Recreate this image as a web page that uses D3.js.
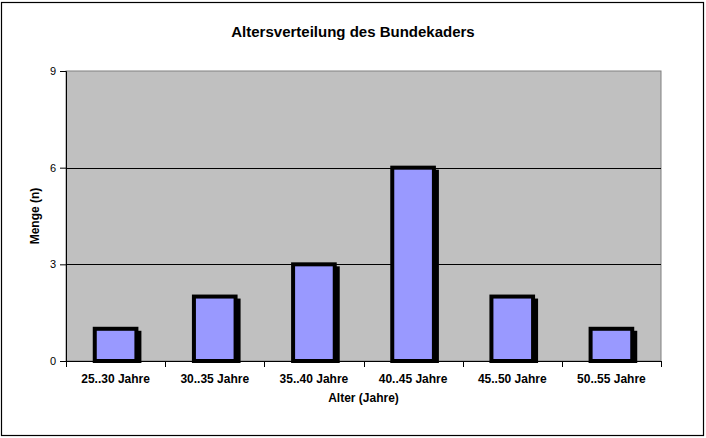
<!DOCTYPE html>
<html>
<head>
<meta charset="utf-8">
<script src="https://cdn.jsdelivr.net/npm/d3@7"></script>
<style>
  body { margin: 0; background: #fff; }
  svg { display: block; font-family: "Liberation Sans", Arial, sans-serif; }
</style>
</head>
<body>
<svg id="chart"></svg>
<script>
// data
const categories = ["25..30 Jahre", "30..35 Jahre", "35..40 Jahre", "40..45 Jahre", "45..50 Jahre", "50..55 Jahre"];
const counts = [1, 2, 3, 6, 2, 1];
const yTicks = [0, 3, 6, 9];

const width = 706, height = 438;
const margin = { top: 71, right: 45, bottom: 77, left: 66 };
const innerW = width - margin.left - margin.right;
const innerH = height - margin.top - margin.bottom;

const svg = d3.select("#chart").attr("width", width).attr("height", height);

// outer chart border
svg.append("rect")
    .attr("x", 1.5).attr("y", 2.5)
    .attr("width", 702).attr("height", 433)
    .attr("fill", "#fff").attr("stroke", "#000").attr("stroke-width", 1.2);

const x = d3.scaleBand().domain(categories).range([0, innerW]).paddingInner(0.58).paddingOuter(0.29);
const y = d3.scaleLinear().domain([0, 9]).range([innerH, 0]);

const g = svg.append("g").attr("transform", `translate(${margin.left},${margin.top})`);

// plot area
g.append("rect")
    .attr("width", innerW).attr("height", innerH)
    .attr("fill", "#c0c0c0").attr("stroke", "#808080").attr("stroke-width", 1);

// gridlines
g.selectAll("line.grid")
    .data(yTicks.filter(d => d > 0 && d < 9))
    .join("line")
    .attr("class", "grid")
    .attr("x1", 0).attr("x2", innerW)
    .attr("y1", d => Math.round(y(d)) + 0.5).attr("y2", d => Math.round(y(d)) + 0.5)
    .attr("stroke", "#000");

// bars: shadow (offset copy) then bar
const shadow = 3;
g.selectAll("rect.shadow")
    .data(counts)
    .join("rect")
    .attr("class", "shadow")
    .attr("x", (d, i) => x(categories[i]) + shadow)
    .attr("y", d => y(d) + shadow + 1)
    .attr("width", x.bandwidth())
    .attr("height", d => innerH - y(d) - shadow - 1)
    .attr("fill", "#000")
    .attr("stroke", "#000")
    .attr("stroke-width", 4);

g.selectAll("rect.bar")
    .data(counts)
    .join("rect")
    .attr("class", "bar")
    .attr("x", (d, i) => x(categories[i]))
    .attr("y", d => y(d))
    .attr("width", x.bandwidth())
    .attr("height", d => innerH - y(d))
    .attr("fill", "#9999ff")
    .attr("stroke", "#000")
    .attr("stroke-width", 4);

// y axis
const yAxis = g.append("g")
    .call(d3.axisLeft(y).tickValues(yTicks).tickSize(6).tickPadding(4).tickFormat(d3.format("d")));
yAxis.select(".domain").attr("stroke", "#000");
yAxis.selectAll("text").attr("font-size", 11).attr("fill", "#000");

// x axis with ticks at category boundaries
const xAxis = g.append("g").attr("transform", `translate(0,${innerH})`);
xAxis.append("line")
    .attr("x1", 0).attr("x2", innerW)
    .attr("y1", 0.5).attr("y2", 0.5)
    .attr("stroke", "#000");
const step = innerW / categories.length;
xAxis.selectAll("line.tick")
    .data(d3.range(categories.length + 1))
    .join("line")
    .attr("class", "tick")
    .attr("x1", i => Math.round(i * step) + 0.5).attr("x2", i => Math.round(i * step) + 0.5)
    .attr("y1", 0).attr("y2", 6)
    .attr("stroke", "#000");
xAxis.selectAll("text")
    .data(categories)
    .join("text")
    .attr("x", d => x(d) + x.bandwidth() / 2)
    .attr("y", 22)
    .attr("text-anchor", "middle")
    .attr("font-size", 12)
    .attr("font-weight", "bold")
    .text(d => d);

// titles
svg.append("text")
    .attr("x", 353).attr("y", 37)
    .attr("text-anchor", "middle")
    .attr("font-size", 15).attr("font-weight", "bold")
    .text("Altersverteilung des Bundekaders");

svg.append("text")
    .attr("x", margin.left + innerW / 2).attr("y", 402)
    .attr("text-anchor", "middle")
    .attr("font-size", 12).attr("font-weight", "bold")
    .text("Alter (Jahre)");

svg.append("text")
    .attr("transform", `translate(39,216) rotate(-90)`)
    .attr("text-anchor", "middle")
    .attr("font-size", 12).attr("font-weight", "bold")
    .text("Menge (n)");
</script>
</body>
</html>
